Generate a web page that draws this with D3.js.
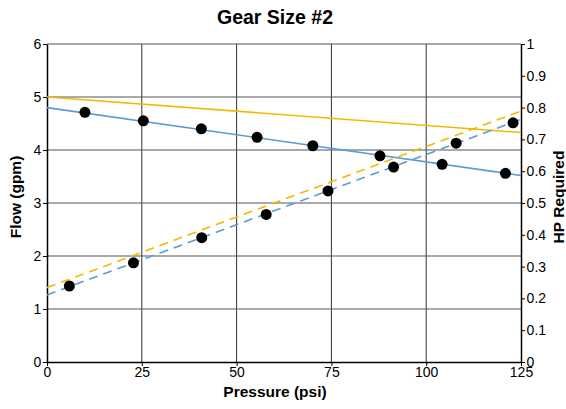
<!DOCTYPE html>
<html>
<head>
<meta charset="utf-8">
<script src="https://cdn.jsdelivr.net/npm/d3@7"></script>
<style>
  body { margin: 0; background: #fff; }
  svg { font-family: "Liberation Sans", Arial, sans-serif; }
</style>
</head>
<body>
<svg id="chart" width="566" height="409"></svg>
<script>
// Measured flow points (gpm) vs pressure (psi)
const flowPressure = [10, 25.4, 40.7, 55.4, 70.1, 87.8, 104.2, 120.9];
const flowValues = [4.71, 4.55, 4.40, 4.24, 4.08, 3.89, 3.73, 3.56];

// Measured HP points vs pressure (psi)
const hpPressure = [5.9, 22.8, 40.8, 57.8, 74.1, 91.4, 107.9, 122.9];
const hpValues = [0.239, 0.312, 0.391, 0.464, 0.538, 0.613, 0.688, 0.752];

// Fit lines, end points at 0 and 125 psi
const lineEnds = [0, 125];
const flowFit = [4.80, 3.52];
const flowSpec = [5.0, 4.33];
const hpFit = [0.211, 0.763];
const hpSpec = [0.234, 0.789];

const xTicks = [0, 25, 50, 75, 100, 125];
const yTicks = [0, 1, 2, 3, 4, 5, 6];
const y2Ticks = [0, 0.1, 0.2, 0.3, 0.4, 0.5, 0.6, 0.7, 0.8, 0.9, 1];

const svg = d3.select("#chart");
const margin = { top: 44, right: 45, bottom: 47, left: 47 };
const width = 566 - margin.left - margin.right;
const height = 409 - margin.top - margin.bottom;

const g = svg.append("g").attr("transform", `translate(${margin.left},${margin.top})`);

const x = d3.scaleLinear().domain([0, 125]).range([0, width]);
const y = d3.scaleLinear().domain([0, 6]).range([height, 0]);
const y2 = d3.scaleLinear().domain([0, 1]).range([height, 0]);

// Grid lines
g.selectAll("line.vgrid")
    .data(xTicks.slice(1, -1))
    .enter()
    .append("line")
    .attr("x1", d => x(d)).attr("x2", d => x(d))
    .attr("y1", 0).attr("y2", height)
    .attr("stroke", "#333").attr("stroke-width", 1);

g.selectAll("line.hgrid")
    .data(yTicks.slice(1))
    .enter()
    .append("line")
    .attr("x1", 0).attr("x2", width)
    .attr("y1", d => y(d)).attr("y2", d => y(d))
    .attr("stroke", "#555").attr("stroke-width", 1.2);

// Axes
const xAxis = g.append("g")
    .attr("transform", `translate(0,${height})`)
    .call(d3.axisBottom(x).tickValues(xTicks).tickSize(4).tickSizeOuter(0).tickFormat(d3.format("d")));

const yAxis = g.append("g")
    .call(d3.axisLeft(y).tickValues(yTicks).tickSize(4).tickSizeOuter(0).tickFormat(d3.format("d")));

const y2Axis = g.append("g")
    .attr("transform", `translate(${width},0)`)
    .call(d3.axisRight(y2).tickValues(y2Ticks).tickSize(4).tickSizeOuter(0).tickFormat(d => String(+d.toFixed(1))));

[xAxis, yAxis, y2Axis].forEach(a => {
    a.selectAll("path").attr("stroke", "#000").attr("stroke-width", 1.5);
    a.selectAll("line").attr("stroke", "#000");
    a.selectAll("text").style("font-size", "14px").style("fill", "#000");
});
xAxis.selectAll("text").attr("dy", "0.6em");
yAxis.selectAll("text").attr("dx", "0.1em");
y2Axis.selectAll("text").attr("dx", "-0.1em");

// Lines
const lineFlow = d3.line().x(d => x(d[0])).y(d => y(d[1]));
const lineHp = d3.line().x(d => x(d[0])).y(d => y2(d[1]));

g.append("path")
    .datum(lineEnds.map((p, i) => [p, flowSpec[i]]))
    .attr("d", lineFlow)
    .attr("fill", "none").attr("stroke", "#f5b800").attr("stroke-width", 1.6);

g.append("path")
    .datum(lineEnds.map((p, i) => [p, flowFit[i]]))
    .attr("d", lineFlow)
    .attr("fill", "none").attr("stroke", "#5b9bd5").attr("stroke-width", 1.6);

g.append("path")
    .datum(lineEnds.map((p, i) => [p, hpSpec[i]]))
    .attr("d", lineHp)
    .attr("fill", "none").attr("stroke", "#f5b800").attr("stroke-width", 1.6)
    .attr("stroke-dasharray", "9,6");

g.append("path")
    .datum(lineEnds.map((p, i) => [p, hpFit[i]]))
    .attr("d", lineHp)
    .attr("fill", "none").attr("stroke", "#5b9bd5").attr("stroke-width", 1.6)
    .attr("stroke-dasharray", "9,6");

// Points
g.selectAll("circle.flow")
    .data(flowPressure)
    .enter()
    .append("circle")
    .attr("cx", d => x(d))
    .attr("cy", (d, i) => y(flowValues[i]))
    .attr("r", 5.5)
    .attr("fill", "#000");

g.selectAll("circle.hp")
    .data(hpPressure)
    .enter()
    .append("circle")
    .attr("cx", d => x(d))
    .attr("cy", (d, i) => y2(hpValues[i]))
    .attr("r", 5.5)
    .attr("fill", "#000");

// Titles
svg.append("text")
    .attr("x", 275).attr("y", 24)
    .attr("text-anchor", "middle")
    .style("font-size", "19.5px").style("font-weight", "bold")
    .text("Gear Size #2");

svg.append("text")
    .attr("x", 275).attr("y", 397)
    .attr("text-anchor", "middle")
    .style("font-size", "15.5px").style("font-weight", "bold")
    .text("Pressure (psi)");

svg.append("text")
    .attr("transform", `translate(21,197) rotate(-90)`)
    .attr("text-anchor", "middle")
    .style("font-size", "15.5px").style("font-weight", "bold")
    .text("Flow (gpm)");

svg.append("text")
    .attr("transform", `translate(564,197) rotate(-90)`)
    .attr("text-anchor", "middle")
    .style("font-size", "15.5px").style("font-weight", "bold")
    .text("HP Required");
</script>
</body>
</html>
